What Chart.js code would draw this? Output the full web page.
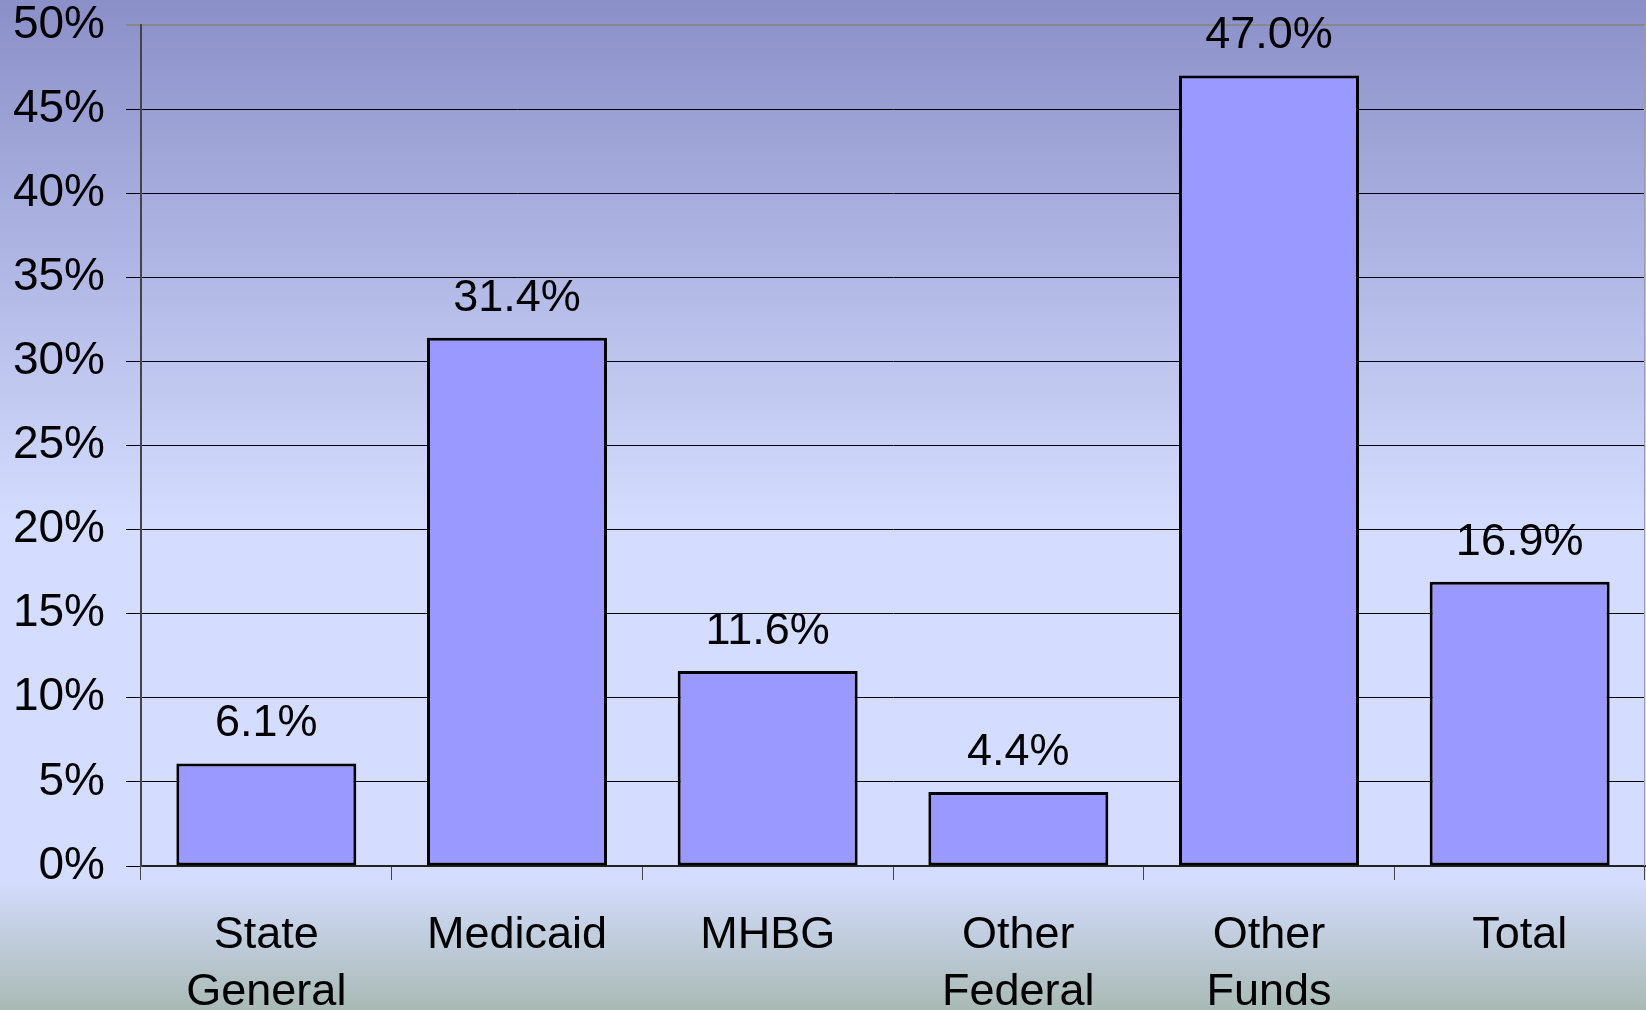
<!DOCTYPE html>
<html>
<head>
<meta charset="utf-8">
<script src="https://cdn.jsdelivr.net/npm/chart.js@4.4.0/dist/chart.umd.min.js"></script>
<style>
    html, body { margin: 0; padding: 0; overflow: hidden; background: #d4ddff; }
    #wrap { width: 1646px; height: 1010px; position: relative; }
</style>
</head>
<body>
<div id="wrap"><canvas id="chart"></canvas></div>
<script>
const categories = [['State', 'General'], 'Medicaid', 'MHBG', ['Other', 'Federal'], ['Other', 'Funds'], 'Total'];
const shares = [6.1, 31.4, 11.6, 4.4, 47.0, 16.9];
const yTicks = [0, 5, 10, 15, 20, 25, 30, 35, 40, 45, 50];

const FONT = 'Liberation Sans, Arial, sans-serif';

// gradient backdrop behind the whole canvas
const backdrop = {
    id: 'backdrop',
    beforeDraw(chart) {
        const { ctx, width, height } = chart;
        const g = ctx.createLinearGradient(0, 0, 0, height);
        g.addColorStop(0, '#8b8fc8');
        g.addColorStop(0.52, '#d4ddff');
        g.addColorStop(0.87, '#d4ddff');
        g.addColorStop(1, '#a9bab4');
        ctx.save();
        ctx.fillStyle = g;
        ctx.fillRect(0, 0, width, height);
        ctx.restore();
    },
    afterDraw(chart) {
        // light right edge of the plot frame
        const { ctx, chartArea } = chart;
        ctx.save();
        ctx.strokeStyle = '#9a9ab0';
        ctx.lineWidth = 1;
        ctx.beginPath();
        ctx.moveTo(chartArea.right - 0.5, chartArea.top);
        ctx.lineTo(chartArea.right - 0.5, chartArea.bottom);
        ctx.stroke();
        ctx.restore();
    }
};

// value labels above each bar
const valueLabels = {
    id: 'valueLabels',
    afterDatasetsDraw(chart) {
        const { ctx } = chart;
        const meta = chart.getDatasetMeta(0);
        ctx.save();
        ctx.font = '45px ' + FONT;
        ctx.fillStyle = '#000';
        ctx.textAlign = 'center';
        ctx.textBaseline = 'alphabetic';
        meta.data.forEach((bar, i) => {
            ctx.fillText(shares[i].toFixed(1) + '%', bar.x, bar.y - 27);
        });
        ctx.restore();
    }
};

new Chart(document.getElementById('chart'), {
    type: 'bar',
    data: {
        labels: categories,
        datasets: [{
            data: shares,
            backgroundColor: '#9999ff',
            borderColor: '#000',
            borderWidth: 3,
            borderSkipped: false,
            barPercentage: 0.718,
            categoryPercentage: 1
        }]
    },
    options: {
        responsive: true,
        maintainAspectRatio: false,
        animation: false,
        devicePixelRatio: 1,
        layout: { padding: { top: 25, right: 1, left: 0, bottom: 0 } },
        plugins: {
            legend: { display: false },
            tooltip: { enabled: false }
        },
        scales: {
            x: {
                offset: true,
                afterFit(scale) { scale.height = 144; },
                grid: {
                    offset: true,
                    drawOnChartArea: false,
                    drawTicks: true,
                    tickLength: 14,
                    color: '#444',
                    lineWidth: 1
                },
                border: { color: '#222', width: 2 },
                ticks: {
                    color: '#000',
                    padding: 27,
                    maxRotation: 0,
                    autoSkip: false,
                    font: { family: FONT, size: 45, lineHeight: 1.27 }
                }
            },
            y: {
                min: 0,
                max: 50,
                afterFit(scale) {
                    scale.width = 141;
                    // keep the tick label padding from pushing the plot down
                    scale.paddingTop = 0;
                    scale.paddingBottom = 0;
                },
                afterBuildTicks(scale) {
                    scale.ticks = yTicks.map(v => ({ value: v }));
                },
                grid: {
                    color: ctx => ctx.tick && ctx.tick.value === 50 ? '#888' : '#000',
                    lineWidth: ctx => ctx.tick && ctx.tick.value === 50 ? 2 : 1,
                    tickLength: 15,
                    drawTicks: true
                },
                border: { color: '#444', width: 2 },
                ticks: {
                    color: '#000',
                    padding: 21,
                    font: { family: FONT, size: 46, lineHeight: 1 },
                    callback: v => v + '%'
                }
            }
        }
    },
    plugins: [backdrop, valueLabels]
});
</script>
</body>
</html>
